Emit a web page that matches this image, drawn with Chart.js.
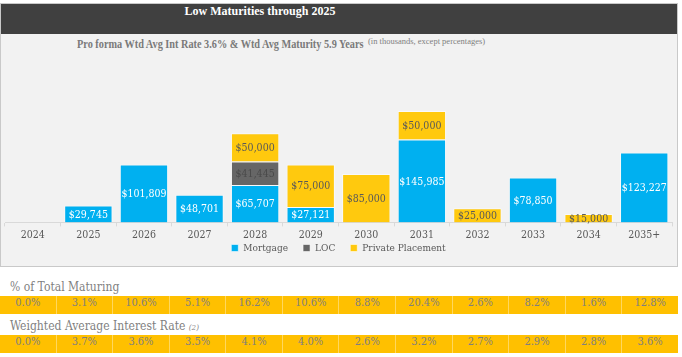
<!DOCTYPE html>
<html><head><meta charset="utf-8">
<script src="https://cdn.jsdelivr.net/npm/chart.js@4"></script>
<style>
html,body{margin:0;padding:0;background:#fff;width:682px;height:357px;overflow:hidden;}
body{position:relative;}
.abs{position:absolute;}
#panel{left:0;top:3px;width:678px;height:264px;box-sizing:border-box;border:1px solid #c9c9c9;background:#f2f2f2;}
#tbar{left:1px;top:4px;width:676px;height:30px;background:#404040;}
#title{left:0;top:4px;width:520px;height:30px;line-height:30px;text-align:center;color:#fff;font:bold 12px 'Liberation Serif',serif;}
#sub{left:77px;top:37px;height:16px;line-height:16px;color:#7a7a7a;font:bold 12px 'Liberation Serif',serif;white-space:nowrap;transform:scaleX(0.855);transform-origin:0 50%;}
#sub2{left:368px;top:36px;height:16px;line-height:16px;color:#7f7f7f;font:8.5px 'Liberation Serif',serif;white-space:nowrap;}
canvas{position:absolute;left:0;top:52px;}
.rlabel{left:10px;height:16px;line-height:16px;color:#7f7f7f;font:12px 'DejaVu Serif Condensed','DejaVu Serif',serif;white-space:nowrap;}
.rlabel i{font-size:8px;}
.row{left:0;width:678px;height:18px;display:flex;background:#ffc000;}
.row div{flex:1;text-align:center;line-height:18px;color:#7f7f7f;font:11px 'DejaVu Serif Condensed','DejaVu Serif',serif;border-left:1px solid #ffd75e;}
.row div:first-child{border-left:none;}
</style></head>
<body>
<div id="panel" class="abs"></div>
<div id="tbar" class="abs"></div>
<div id="title" class="abs">Low Maturities through 2025</div>
<div id="sub" class="abs">Pro forma Wtd Avg Int Rate 3.6% &amp; Wtd Avg Maturity 5.9 Years</div>
<div id="sub2" class="abs">(in thousands, except percentages)</div>
<canvas id="c" width="678" height="228"></canvas>
<div class="abs rlabel" style="top:280px">% of Total Maturing</div>
<div class="abs row" id="row1" style="top:296px"></div>
<div class="abs rlabel" style="top:319px">Weighted Average Interest Rate <i>(2)</i></div>
<div class="abs row" id="row2" style="top:335px"></div>
<script>
const years = ['2024','2025','2026','2027','2028','2029','2030','2031','2032','2033','2034','2035+'];
const mortgage = [null, 29745, 101809, 48701, 65707, 27121, null, 145985, null, 78850, null, 123227];
const loc = [null, null, null, null, 41445, null, null, null, null, null, null, null];
const privatePlacement = [null, null, null, null, 50000, 75000, 85000, 50000, 25000, null, 15000, null];
const pctTotalMaturing = ['0.0%','3.1%','10.6%','5.1%','16.2%','10.6%','8.8%','20.4%','2.6%','8.2%','1.6%','12.8%'];
const wtdAvgRate = ['0.0%','3.7%','3.6%','3.5%','4.1%','4.0%','2.6%','3.2%','2.7%','2.9%','2.8%','3.6%'];

function fillRow(id, vals){
  const el = document.getElementById(id);
  vals.forEach(v => { const d = document.createElement('div'); d.textContent = v; el.appendChild(d); });
}
fillRow('row1', pctTotalMaturing);
fillRow('row2', wtdAvgRate);

const FONT = "'DejaVu Serif Condensed', 'DejaVu Serif', serif";
Chart.defaults.font.family = FONT;

const valueLabels = {
  id: 'valueLabels',
  afterDatasetsDraw(chart){
    const ctx = chart.ctx;
    ctx.save();
    ctx.font = "10.5px " + FONT;
    ctx.textAlign = 'center';
    ctx.textBaseline = 'middle';
    chart.data.datasets.forEach((ds, i) => {
      const meta = chart.getDatasetMeta(i);
      meta.data.forEach((bar, j) => {
        const v = ds.data[j];
        if (v == null) return;
        ctx.fillStyle = ds.labelColor;
        ctx.fillText('$' + v.toLocaleString('en-US'), bar.x, (bar.y + bar.base) / 2 + 1);
      });
    });
    ctx.restore();
  }
};

const legendShift = {
  id: 'legendShift',
  afterLayout(chart){
    const lg = chart.legend;
    const target = chart.scales.x.bottom - lg.options.labels.padding - 2;
    const dy = lg.top - target;
    lg.top -= dy; lg.bottom -= dy;
  }
};

new Chart(document.getElementById('c'), {
  type: 'bar',
  data: {
    labels: years,
    datasets: [
      {label:'Mortgage', data: mortgage, backgroundColor:'#00b0f0', labelColor:'#ffffff'},
      {label:'LOC', data: loc, backgroundColor:'#666666', labelColor:'#4a4a4a'},
      {label:'Private Placement', data: privatePlacement, backgroundColor:'#ffc90e', labelColor:'#595959'}
    ]
  },
  options: {
    responsive: false,
    animation: false,
    devicePixelRatio: 1,
    layout: {padding: {left:5, right:6, top:0, bottom:0}},
    datasets: {bar: {categoryPercentage: 1, barPercentage: 0.87, borderWidth: 1, borderColor: 'rgba(255,255,255,0.55)'}},
    scales: {
      x: {
        stacked: true,
        grid: {display: true, offset: true, drawOnChartArea: false, drawTicks: true, tickLength: 4, color: '#d9d9d9'},
        border: {display: true, color: '#d9d9d9'},
        ticks: {color: '#595959', font: {size: 10.5, family: FONT}, padding: 3}
      },
      y: {stacked: true, display: false, min: 0, max: 300000}
    },
    plugins: {
      legend: {
        position: 'bottom',
        labels: {boxWidth: 7, boxHeight: 7, padding: 15, color: '#595959', font: {size: 10, family: FONT}}
      },
      tooltip: {enabled: false},
      title: {display: false}
    }
  },
  plugins: [valueLabels, legendShift]
});
</script>
</body></html>
